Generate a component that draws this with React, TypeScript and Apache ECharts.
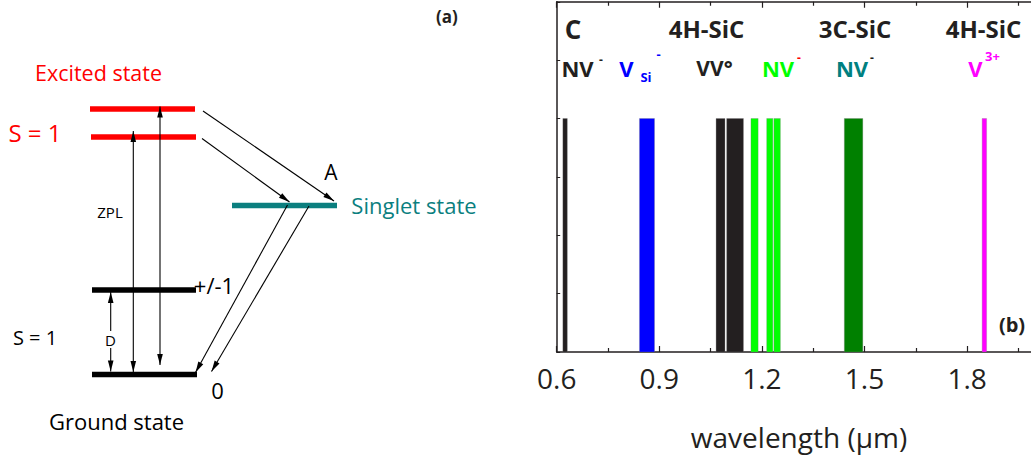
import React, { useEffect, useRef } from 'react';
import * as echarts from 'echarts';

// ---- data: emission bands (wavelength in µm) ----
const bandStart = [0.618, 0.842, 1.066, 1.097, 1.168, 1.214, 1.235, 1.441, 1.844];
const bandEnd = [0.631, 0.886, 1.092, 1.146, 1.189, 1.232, 1.254, 1.495, 1.857];
const bandHeight = [1, 1, 1, 1, 1, 1, 1, 1, 1];
const bandColor = ['#231f20', '#0000ff', '#231f20', '#231f20', '#00ff00', '#00ff00', '#00ff00', '#008000', '#ff00ff'];
const xTickLabels = ['0.6', '0.9', '1.2', '1.5', '1.8'];

const FONT = "'Open Sans', 'Noto Sans', sans-serif";
const INK = '#231f20';

function txt(text: string, x: number, y: number, size: number, fill: string, bold = false, align = 'center', extra: any = {}) {
  return {
    type: 'text',
    z: 10,
    style: {
      text, x, y, fill,
      fontSize: size,
      fontFamily: FONT,
      fontWeight: bold ? 'bold' : 'normal',
      align,
      verticalAlign: 'middle',
      ...extra,
    },
  };
}

function arrow(x1: number, y1: number, x2: number, y2: number, startHead = false, endHead = true) {
  const els: any[] = [
    { type: 'line', shape: { x1, y1, x2, y2 }, style: { stroke: '#000', lineWidth: 1.1 } },
  ];
  const head = (tx: number, ty: number, fx: number, fy: number) => {
    const dx = tx - fx, dy = ty - fy;
    const L = Math.hypot(dx, dy);
    const ux = dx / L, uy = dy / L;
    const len = 11, w = 2.8;
    const bx = tx - ux * len, by = ty - uy * len;
    return {
      type: 'polygon',
      shape: { points: [[tx, ty], [bx - uy * w, by + ux * w], [bx + uy * w, by - ux * w]] },
      style: { fill: '#000' },
    };
  };
  if (endHead) els.push(head(x2, y2, x1, y1));
  if (startHead) els.push(head(x1, y1, x2, y2));
  return els;
}

function level(x1: number, x2: number, y: number, color: string) {
  return { type: 'rect', shape: { x: x1, y: y - 2.7, width: x2 - x1, height: 5.4 }, style: { fill: color } };
}

export default function App() {
  const ref = useRef<HTMLDivElement>(null);

  useEffect(() => {
    if (!ref.current) return;
    const chart = echarts.init(ref.current, undefined, { renderer: 'svg' });

    const graphics: any[] = [
      // ---- panel (a): energy level diagram ----
      level(90, 195, 109, '#ff0000'),
      level(91, 196, 137, '#ff0000'),
      level(92, 196, 290, '#000000'),
      level(92, 197, 374.5, '#000000'),
      level(232, 337, 205.5, '#0b7f7f'),
      ...arrow(133.3, 372, 133.3, 131, true, true),
      ...arrow(160, 365, 160, 106.5, true, true),
      ...arrow(110.7, 371.5, 110.7, 292, true, true),
      ...arrow(203, 111, 334, 201),
      ...arrow(202, 138.5, 289.5, 202),
      ...arrow(287.5, 205, 195.5, 372.5),
      ...arrow(309, 206, 211.5, 371.5),
      txt('Excited state', 98.5, 72, 21.5, '#ff0000'),
      txt('S = 1', 35, 132, 24, '#ff0000'),
      txt('ZPL', 110, 212, 15, '#000'),
      txt('D', 110.5, 339.5, 15, '#000', false, 'center', { backgroundColor: '#fff', padding: [1, 0] }),
      txt('+/-1', 214, 285, 22, '#000'),
      txt('0', 217.5, 390, 22, '#000'),
      txt('S = 1', 35, 337, 20, '#000'),
      txt('Ground state', 116.5, 421, 22, '#000'),
      txt('A', 331, 172, 21, '#000'),
      txt('Singlet state', 414, 205, 22, '#0b7f7f'),
      txt('(a)', 447, 16, 17, INK, true),
      // ---- panel (b): annotations ----
      txt('C', 573, 29, 26, INK, true),
      txt('4H-SiC', 706.5, 28, 24, INK, true),
      txt('3C-SiC', 855, 28, 24, INK, true),
      txt('4H-SiC', 983.5, 28, 24, INK, true),
      txt('NV', 577.5, 68, 22, INK, true),
      txt('-', 601, 59, 12, INK, true),
      txt('V', 626.5, 68, 22, '#0000ff', true),
      txt('Si', 646, 77, 13, '#0000ff', true),
      txt('-', 658.5, 54, 13, '#0000ff', true),
      txt('VV°', 714.5, 68, 21, INK, true),
      txt('NV', 778, 68, 22, '#00ff00', true),
      txt('-', 799, 57, 12, '#ff0000', true),
      txt('NV', 852, 68, 22, '#008080', true),
      txt('-', 872, 57, 12, INK, true),
      txt('V', 975.5, 68, 22, '#ff00ff', true),
      txt('3+', 992.5, 56, 13, '#ff00ff', true),
      txt('(b)', 1012, 324, 20, INK, true),
      txt('wavelength (μm)', 799, 437, 28, INK),
    ];

    const axisCommon = {
      type: 'value',
      min: 0.6,
      max: 2.1,
      interval: 0.3,
      axisLine: { show: true, onZero: false, lineStyle: { color: INK, width: 1.5 } },
      axisTick: { show: true, inside: true, length: 6, lineStyle: { color: INK, width: 1.2 } },
      minorTick: { show: true, splitNumber: 2, length: 4, lineStyle: { color: INK, width: 1.2 } },
      splitLine: { show: false },
      minorSplitLine: { show: false },
    };

    chart.setOption({
      animation: false,
      backgroundColor: '#fff',
      grid: {
        left: 556.7, top: 1.75, width: 513, bottom: 103,
        containLabel: false,
        outerBoundsMode: 'none',
      },
      xAxis: [
        {
          ...axisCommon,
          position: 'bottom',
          axisLabel: {
            show: true,
            margin: 12,
            fontSize: 28,
            fontFamily: FONT,
            color: INK,
            showMaxLabel: false,
            formatter: (v: number) => {
              const s = v.toFixed(1);
              return xTickLabels.includes(s) ? s : '';
            },
          },
        },
        {
          ...axisCommon,
          position: 'top',
          axisLabel: { show: false },
        },
      ],
      yAxis: {
        type: 'value',
        min: 0,
        max: 1.5,
        interval: 0.25,
        axisLine: { show: true, lineStyle: { color: INK, width: 1.5 } },
        axisTick: { show: true, inside: true, length: 3.5, lineStyle: { color: INK, width: 1 } },
        axisLabel: { show: false },
        splitLine: { show: false },
      },
      series: [
        {
          type: 'custom',
          xAxisIndex: 0,
          encode: { x: [0, 1], y: 2 },
          data: bandStart.map((s, i) => [s, bandEnd[i], bandHeight[i]]),
          renderItem: (params: any, api: any) => {
            const p0 = api.coord([api.value(0), api.value(2)]);
            const p1 = api.coord([api.value(1), 0]);
            return {
              type: 'rect',
              shape: { x: p0[0], y: p0[1], width: p1[0] - p0[0], height: p1[1] - p0[1] },
              style: { fill: bandColor[params.dataIndex], stroke: 'rgba(120,120,120,0.5)', lineWidth: 0.6 },
            };
          },
        },
      ],
      graphic: graphics,
    });

    return () => chart.dispose();
  }, []);

  return (
    <div
      ref={ref}
      style={{ position: 'absolute', left: 0, top: 0, width: 1031, height: 455, background: '#fff' }}
    />
  );
}
